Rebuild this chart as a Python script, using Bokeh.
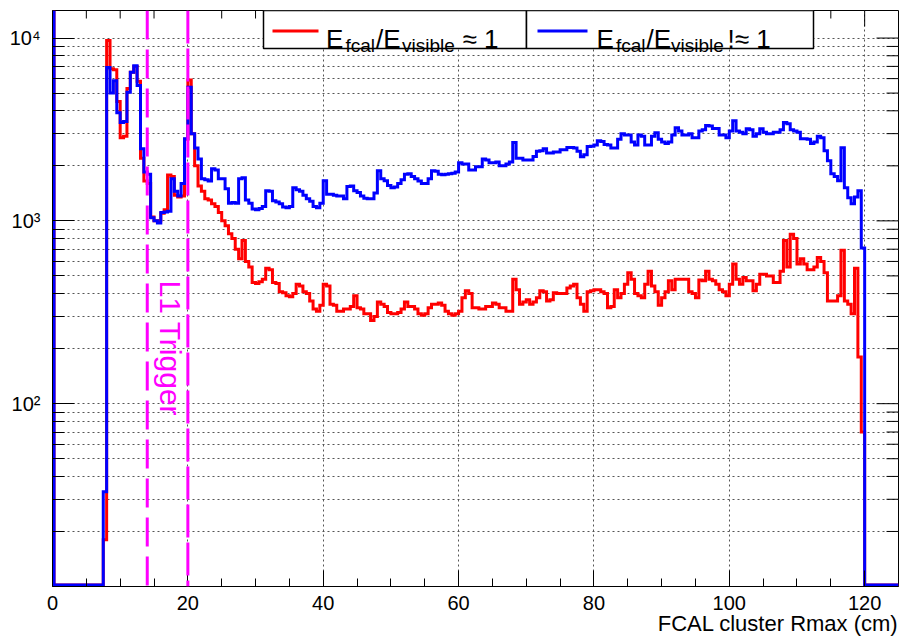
import math
import numpy as np
from bokeh.plotting import figure
from bokeh.models import Range1d, FixedTicker, Span, Label, BoxAnnotation, Title
from bokeh.embed import file_html
from bokeh.resources import INLINE

# ---------------- data ----------------
BIN_WIDTH = 0.5
X_LOW, X_HIGH = 0.0, 125.0
Y_LOW, Y_HIGH = 10.0, 14150.0
FIRST_FILLED_BIN = 7.5      # lower edge of the first non-empty bin

# counts per 0.5 cm bin, starting at 7.5 cm (bins below and above are empty)
red_counts = [
    18,
    9700, 6800, 6700, 4500, 2850, 2900, 5300, 6500, 7000, 5800,
    2200, 1650, 1600, 1050, 1000, 1000, 1100, 1150, 1780, 1750,
    1380, 1350, 1370, 2800, 5900, 3000, 2000, 1550, 1450, 1320,
    1300, 1240, 1200, 1110, 1000, 940, 850, 800, 700, 620,
    780, 600, 560, 460, 455, 465, 480, 550, 540, 460,
    455, 410, 405, 390, 385, 400, 450, 440, 410, 400,
    365, 330, 320, 345, 450, 440, 350, 345, 320, 320,
    330, 330, 340, 390, 335, 330, 310, 310, 285, 300,
    360, 350, 340, 315, 310, 310, 315, 330, 360, 340,
    340, 330, 310, 305, 310, 335, 350, 350, 355, 345,
    320, 310, 305, 310, 320, 380, 415, 400, 335, 335,
    330, 330, 340, 340, 355, 350, 335, 335, 320, 320,
    480, 420, 350, 360, 370, 350, 360, 380, 415, 410,
    365, 370, 405, 400, 400, 400, 430, 440, 450, 380,
    350, 320, 410, 415, 420, 420, 410, 400, 335, 340,
    420, 380, 400, 450, 520, 480, 400, 390, 380, 450,
    530, 440, 410, 345, 380, 410, 470, 420, 480, 480,
    480, 480, 410, 400, 380, 475, 470, 530, 480, 470,
    450, 420, 410, 390, 450, 580, 480, 450, 490, 470,
    470, 415, 450, 510, 510, 500, 500, 460, 460, 530,
    780, 560, 845, 800, 580, 620, 580, 540, 540, 560,
    630, 600, 520, 365, 365, 365, 390, 690, 365, 350,
    310, 550, 180, 70,
]
blue_counts = [
    33,
    6900, 5000, 5850, 3900, 3450, 3500, 5060, 6500, 7060, 5500,
    2480, 1850, 1800, 1040, 1000, 975, 1110, 1120, 1130, 1700,
    1450, 1370, 1600, 2810, 5380, 3000, 2500, 2180, 1700, 1680,
    1650, 1930, 1900, 1700, 1700, 1500, 1250, 1260, 1250, 1700,
    1720, 1300, 1250, 1160, 1150, 1170, 1200, 1460, 1450, 1290,
    1270, 1240, 1190, 1180, 1200, 1520, 1480, 1450, 1380, 1320,
    1280, 1200, 1180, 1250, 1660, 1400, 1400, 1380, 1370, 1370,
    1320, 1540, 1550, 1460, 1430, 1370, 1330, 1320, 1320, 1420,
    1880, 1700, 1660, 1560, 1520, 1530, 1600, 1680, 1800, 1810,
    1750, 1700, 1650, 1600, 1600, 1700, 1880, 1870, 1800, 1790,
    1800, 1810, 1820, 1850, 2080, 2050, 2050, 1900, 1900, 1980,
    1980, 2180, 2150, 2080, 2080, 2100, 2000, 2000, 2050, 2100,
    2680, 2200, 2200, 2150, 2150, 2150, 2250, 2400, 2420, 2480,
    2350, 2350, 2380, 2380, 2450, 2450, 2520, 2520, 2500, 2400,
    2240, 2300, 2550, 2560, 2600, 2740, 2720, 2620, 2600, 2500,
    2500, 2800, 3000, 2950, 2950, 2700, 2600, 2950, 2900, 2600,
    2600, 2900, 3030, 2800, 2700, 2650, 2700, 2950, 3230, 3100,
    2950, 2950, 3000, 2850, 2850, 3100, 3150, 3320, 3300, 3200,
    3200, 2950, 2950, 2850, 3100, 3530, 3100, 3050, 3000, 3190,
    3150, 2900, 3000, 3190, 3050, 3000, 3000, 3050, 3050, 3150,
    3450, 3400, 3150, 3100, 3050, 2810, 2810, 2800, 2650, 2700,
    2900, 2850, 2420, 2130, 1810, 1750, 1660, 2510, 1520, 1340,
    1240, 1350, 1460, 710,
]

x_major_ticks = [0, 20, 40, 60, 80, 100, 120]
x_minor_ticks = [5, 10, 15, 25, 30, 35, 45, 50, 55, 65, 70, 75, 85, 90, 95, 105, 110, 115]
y_major_ticks = [100, 1000, 10000]
y_tick_labels = {100: "10\u00b2", 1000: "10\u00b3", 10000: "10\u2074"}
y_minor_ticks = [20, 30, 40, 50, 60, 70, 80, 90,
                 200, 300, 400, 500, 600, 700, 800, 900,
                 2000, 3000, 4000, 5000, 6000, 7000, 8000, 9000]
trigger_lines = [14.0, 20.0]
trigger_text = "L1 Trigger"
x_title = "FCAL cluster Rmax (cm)"
series_colors = {"red": "#ff0000", "blue": "#0000ff"}
MAGENTA = "#ff00ff"
FONT = "Liberation Sans"

# ---------------- geometry (canvas pixels) ----------------
W, H = 899, 636
ML, MR, MT, MB = 52, 1, 10, 50
FRAME_L, FRAME_R = ML, W - MR
FRAME_T, FRAME_B = MT, H - MB
LOGSPAN = math.log10(Y_HIGH / Y_LOW)
DECADE_PX = (FRAME_B - FRAME_T) / LOGSPAN


def px2x(px):
    return X_LOW + (px - FRAME_L) * (X_HIGH - X_LOW) / (FRAME_R - FRAME_L)


def py2y(py):
    return 10 ** (math.log10(Y_LOW) + (FRAME_B - py) / DECADE_PX)


p = figure(width=W, height=H, x_range=Range1d(X_LOW, X_HIGH), y_range=Range1d(Y_LOW, Y_HIGH),
           y_axis_type="log", output_backend="svg", toolbar_location=None,
           min_border_left=ML, min_border_right=MR, min_border_top=MT, min_border_bottom=MB)
p.background_fill_color = "white"
p.border_fill_color = "white"
p.outline_line_color = "black"
p.outline_line_width = 1

xt = FixedTicker(ticks=x_major_ticks, minor_ticks=x_minor_ticks)
yt = FixedTicker(ticks=y_major_ticks, minor_ticks=y_minor_ticks)

# bottom axis (ticks + numbers)
xa = p.xaxis[0]
xa.ticker = xt
xa.major_tick_in, xa.major_tick_out = 16, 0
xa.minor_tick_in, xa.minor_tick_out = 8, 0
xa.major_label_text_font = FONT
xa.major_label_text_font_size = "20px"
xa.major_label_text_color = "black"
xa.major_label_standoff = 9
xa.axis_line_color = "black"

# right-aligned x-axis title underneath the numbers
p.add_layout(Title(text=x_title, align="right", text_font=FONT, text_font_size="22px",
                   text_font_style="normal", text_color="black", standoff=-8), "below")

# left axis
ya = p.yaxis[0]
ya.ticker = yt
ya.major_tick_in, ya.major_tick_out = 22, 0
ya.minor_tick_in, ya.minor_tick_out = 12, 0
ya.major_label_overrides = y_tick_labels
ya.major_label_text_font = FONT
ya.major_label_text_font_size = "20px"
ya.major_label_text_color = "black"
ya.major_label_standoff = 12
ya.axis_line_color = "black"

# grids (dotted)
p.xgrid.ticker = xt
p.ygrid.ticker = yt
for g in (p.xgrid[0], p.ygrid[0]):
    g.grid_line_color = "#555555"
    g.grid_line_dash = "2 3"
    g.grid_line_width = 1
p.ygrid.minor_grid_line_color = "#555555"
p.ygrid.minor_grid_line_dash = "2 3"
p.ygrid.minor_grid_line_width = 1

# ticks on the top and right frame edges (ROOT style)
tx0, ty0, tx1, ty1 = [], [], [], []
for ticks, ln in ((x_major_ticks, 16), (x_minor_ticks, 8)):
    for t in ticks:
        tx0.append(t); ty0.append(Y_HIGH); tx1.append(t); ty1.append(py2y(FRAME_T + ln))
for ticks, ln in ((y_major_ticks, 22), (y_minor_ticks, 12)):
    for t in ticks:
        tx0.append(X_HIGH); ty0.append(t); tx1.append(px2x(FRAME_R - ln)); ty1.append(t)
p.segment(tx0, ty0, tx1, ty1, line_color="black", line_width=1)

# histograms as step outlines (line kept just inside the frame at its empty ends)
edges = np.linspace(X_LOW, X_HIGH, int(round((X_HIGH - X_LOW) / BIN_WIDTH)) + 1)
first = int(round((FIRST_FILLED_BIN - X_LOW) / BIN_WIDTH))
floor_val = py2y(FRAME_B - 1.5)


def outline(counts):
    vals = np.zeros(len(edges) - 1)
    vals[first:first + len(counts)] = counts
    vals = np.maximum(vals, floor_val)
    xe = edges.copy()
    xe[0] = px2x(FRAME_L + 1.5)
    xs = np.concatenate([[xe[0]], np.repeat(xe, 2)[1:-1]])
    ys = np.concatenate([[Y_HIGH], np.repeat(vals, 2)])
    return xs, ys


for name, counts in (("red", red_counts), ("blue", blue_counts)):
    xs, ys = outline(counts)
    p.line(xs, ys, line_color=series_colors[name], line_width=3, line_join="miter")

# trigger lines
p.add_layout(Span(location=trigger_lines[0], dimension="height", line_color=MAGENTA,
                  line_width=3, line_dash="29 10"))
p.add_layout(Span(location=trigger_lines[1], dimension="height", line_color=MAGENTA,
                  line_width=3, line_dash="33 5"))
p.add_layout(Label(x=px2x(170), y=py2y(280), text=trigger_text, angle=-math.pi / 2,
                   text_align="left", text_baseline="middle", text_color=MAGENTA,
                   text_font=FONT, text_font_size="30px"))

# legend (two columns)
leg_bot = 48
for l, r in ((263, 526), (526, 813)):
    p.add_layout(BoxAnnotation(left=px2x(l), right=px2x(r), top=Y_HIGH, bottom=py2y(leg_bot),
                               fill_color="white", fill_alpha=1.0, line_color="black",
                               line_width=1.5, line_alpha=1.0))
seg = p.segment(x0=[px2x(272), px2x(537)], y0=[py2y(30.5)] * 2,
                x1=[px2x(318), px2x(587)], y1=[py2y(30.5)] * 2,
                line_color=[series_colors["red"], series_colors["blue"]], line_width=3)
seg.level = "overlay"

legend_pieces = [
    ("E", 325.5, 38, 26), ("fcal", 345.0, 45, 19), ("/E", 375.5, 38, 26),
    ("visible", 401.5, 45, 19), ("\u2248 1", 462.0, 38, 26),
    ("E", 596.0, 38, 26), ("fcal", 615.5, 45, 19), ("/E", 646.0, 38, 26),
    ("visible", 670.5, 45, 19), ("!\u2248 1", 727.0, 38, 26),
]
for txt, px, py, fs in legend_pieces:
    p.add_layout(Label(x=px2x(px), y=py2y(py), text=txt, text_align="left",
                       text_baseline="alphabetic", text_font=FONT,
                       text_font_size=f"{fs}px", text_color="black", level="overlay"))

open("out.html", "w").write(file_html(p, INLINE))
